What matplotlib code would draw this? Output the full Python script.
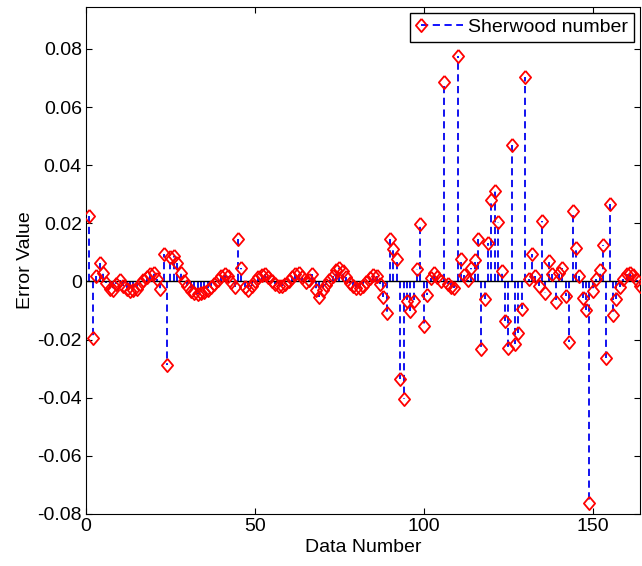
import matplotlib.pyplot as plt
from matplotlib.lines import Line2D
from matplotlib.legend_handler import HandlerBase
import numpy as np

plt.rcParams['font.family'] = ['Liberation Sans', 'DejaVu Sans']

# error values, one per data number (1..164)
errors = [
    0.0225, -0.0195, 0.0018, 0.0065, 0.0030, -0.0005, -0.0025, -0.0030, -0.0010, 0.0005,
    -0.0015, -0.0025, -0.0033, -0.0030, -0.0025, -0.0010, 0.0005, 0.0015, 0.0025, 0.0028,
    0.0010, -0.0025, 0.0093, -0.0287, 0.0085, 0.0088, 0.0065, 0.0030, 0.0000, -0.0015,
    -0.0033, -0.0040, -0.0042, -0.0040, -0.0037, -0.0030, -0.0020, -0.0008, 0.0005, 0.0018,
    0.0024, 0.0020, -0.0003, -0.0018, 0.0145, 0.0047, -0.0020, -0.0028, -0.0015, 0.0003,
    0.0015, 0.0023, 0.0024, 0.0015, 0.0002, -0.0010, -0.0016, -0.0015, -0.0008, 0.0003,
    0.0015, 0.0027, 0.0030, 0.0015, -0.0003, 0.0005, 0.0025, -0.0028, -0.0052, -0.0030,
    -0.0012, 0.0005, 0.0020, 0.0040, 0.0045, 0.0035, 0.0015, -0.0005, -0.0015, -0.0022,
    -0.0022, -0.0015, -0.0002, 0.0012, 0.0022, 0.0020, -0.0008, -0.0055, -0.0108, 0.0145,
    0.0110, 0.0076, -0.0337, -0.0404, -0.0068, -0.0102, -0.0068, 0.0044, 0.0196, -0.0152,
    -0.0045, 0.0013, 0.0030, 0.0015, 0.0000, 0.0686, -0.0010, -0.0020, -0.0022, 0.0775,
    0.0076, 0.0023, 0.0006, 0.0045, 0.0073, 0.0147, -0.0232, -0.0060, 0.0133, 0.0280,
    0.0310, 0.0204, 0.0035, -0.0137, -0.0228, 0.0470, -0.0217, -0.0177, -0.0096, 0.0705,
    0.0007, 0.0096, 0.0018, -0.0016, 0.0207, -0.0039, 0.0070, 0.0027, -0.0070, 0.0030,
    0.0047, -0.0050, -0.0207, 0.0242, 0.0116, 0.0018, -0.0056, -0.0099, -0.0762, -0.0033,
    0.0007, 0.0041, 0.0125, -0.0265, 0.0268, -0.0114, -0.0062, -0.0018, 0.0010, 0.0025,
    0.0030, 0.0022, 0.0005, -0.0015,
]
data_number = np.arange(1, len(errors) + 1)

x_ticks = [0, 50, 100, 150]
y_ticks = [-0.08, -0.06, -0.04, -0.02, 0, 0.02, 0.04, 0.06, 0.08]
y_tick_labels = ['-0.08', '-0.06', '-0.04', '-0.02', '0', '0.02', '0.04', '0.06', '0.08']

# matlab-like diamond, a bit taller than wide
diamond = [(0, 1), (0.85, 0), (0, -1), (-0.85, 0), (0, 1)]


class StemHandler(HandlerBase):
    # matlab style legend: marker at the left, dashed line to the right
    def create_artists(self, legend, orig_handle, xdescent, ydescent,
                       width, height, fontsize, trans):
        y = height / 2 - ydescent
        line = Line2D([-xdescent + 4, width - xdescent], [y, y],
                      color='#0000ff', lw=1.3, ls=(0, (4, 2.5)))
        mk = Line2D([-xdescent + 4], [y], marker=diamond, ms=9.5, mec='#ff0000',
                    mfc='none', mew=1.3, ls='none')
        line.set_transform(trans)
        mk.set_transform(trans)
        return [line, mk]


fig = plt.figure(figsize=(6.42, 5.66), dpi=100)
ax = fig.add_axes([0.134, 0.092, 0.863, 0.896])

markerline, stemlines, baseline = ax.stem(data_number, errors, linefmt='b--',
                                          markerfmt='D', basefmt='k-')
stemlines.set_color('#0000ee')
stemlines.set_linewidth(1.3)
stemlines.set_linestyle((0, (4, 2.5)))
markerline.set_marker(diamond)
markerline.set_markerfacecolor('none')
markerline.set_markeredgecolor('#ff0000')
markerline.set_markersize(9.5)
markerline.set_markeredgewidth(1.3)
markerline.set_zorder(3)
baseline.set_xdata([0, 164])
baseline.set_linewidth(1.0)

ax.set_xlim(0, 164)
ax.set_ylim(-0.08, 0.0945)
ax.set_xticks(x_ticks)
ax.set_yticks(y_ticks)
ax.set_yticklabels(y_tick_labels)
ax.tick_params(direction='in', top=True, right=True, length=4, labelsize=14, pad=3)
for s in ax.spines.values():
    s.set_linewidth(0.8)

ax.set_xlabel('Data Number', fontsize=14, labelpad=3)
ax.set_ylabel('Error Value', fontsize=14, labelpad=2)

ax.legend([markerline], ['Sherwood number'], handler_map={markerline: StemHandler()},
          loc='upper right', fontsize=14, fancybox=False, edgecolor='black',
          framealpha=1, borderaxespad=0.3, handlelength=2.4, handletextpad=0.3,
          borderpad=0.3)

fig.savefig('out.png', dpi=100)
